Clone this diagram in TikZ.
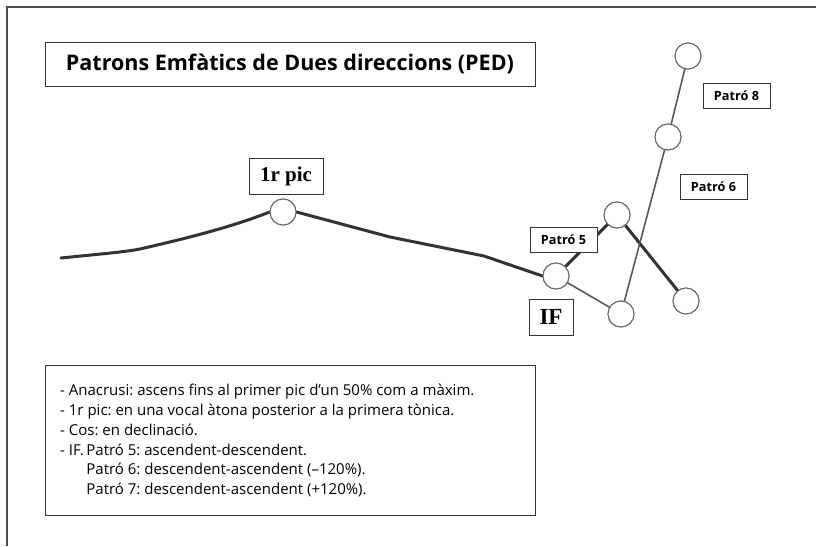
\documentclass[tikz,border=0pt]{standalone}
\usepackage{fontspec}
\setmainfont{Open Sans}
\newfontfamily\serifname{Liberation Serif}
\begin{document}
\begin{tikzpicture}[x=1pt,y=-1pt,
  boxlbl/.style={draw=black!80,line width=1pt,fill=white,inner sep=0pt,minimum width=#1},
  vtx/.style={circle,draw=black!60,line width=1pt,fill=white,minimum size=26pt,inner sep=0pt},
  thickln/.style={line width=3pt,draw=black!80,line cap=round,line join=round},
  thinln/.style={line width=1.6pt,draw=black!65,line cap=round}]
\useasboundingbox (0,0) rectangle (816,546);
\draw[line width=1.2pt,black!70] (7,546) -- (7,7) -- (816,7);
% title
\node[boxlbl=490pt,minimum height=44pt,font=\bfseries\fontsize{21.5}{24}\selectfont] (title) at (290,64) {Patrons Emfàtics de Dues direccions (PED)};
% vertices
\node[vtx] (p1) at (283,212) {};
\node[vtx] (if) at (556,276) {};
\node[vtx] (t5) at (617,215) {};
\node[vtx] (e5) at (686,301) {};
\node[vtx] (b6) at (621,314) {};
\node[vtx] (m6) at (668,137) {};
\node[vtx] (t8) at (688,56) {};
\coordinate (s0) at (61,258);
% main contour
\draw[thickln] (s0) .. controls (100,254) and (125,252) .. (140,249)
  .. controls (175,241) and (230,228) .. (p1.west);
\draw[thickln] (p1.east) -- (390,237) -- (484,256) -- (if.west);
\draw[thickln] (if) -- (t5);
\draw[thickln] (t5) -- (e5);
\draw[thinln] (if) -- (b6);
\draw[thinln] (b6) -- (m6);
\draw[thinln] (m6) -- (t8);
% redraw vertices on top
\foreach \n in {p1,if,t5,e5,b6,m6,t8} \node[vtx] at (\n) {};
% labels
\node[boxlbl=74pt,minimum height=36pt,font=\serifname\bfseries\fontsize{21}{24}\selectfont] (lpic) at (286,176) {1r pic};
\node[boxlbl=44pt,minimum height=36pt,font=\serifname\bfseries\fontsize{23}{26}\selectfont] (lif) at (551,317) {IF};
\node[boxlbl=67pt,minimum height=25pt,font=\bfseries\fontsize{12.7}{15}\selectfont] (l5) at (563.5,239.5) {Patró 5};
\node[boxlbl=67pt,minimum height=25pt,font=\bfseries\fontsize{12.7}{15}\selectfont] (l6) at (713.5,186.5) {Patró 6};
\node[boxlbl=67pt,minimum height=25pt,font=\bfseries\fontsize{12.7}{15}\selectfont] (l8) at (736.5,95.5) {Patró 8};
% text box
\node[boxlbl=490pt,minimum height=150pt] (txt) at (290,440) {};
\node[anchor=north west,align=left,inner sep=0pt,font=\fontsize{15}{19.8}\selectfont\frenchspacing] (body) at (60,384) {%
- Anacrusi: ascens fins al primer pic d’un 50\% com a màxim.\\
- 1r pic: en una vocal àtona posterior a la primera tònica.\\
- Cos: en declinació.\\
- IF.\,Patró 5: ascendent-descendent.\\
\phantom{- IF.\,}Patró 6: descendent-ascendent (–120\%).\\
\phantom{- IF.\,}Patró 7: descendent-ascendent (+120\%).};
\end{tikzpicture}
\end{document}
